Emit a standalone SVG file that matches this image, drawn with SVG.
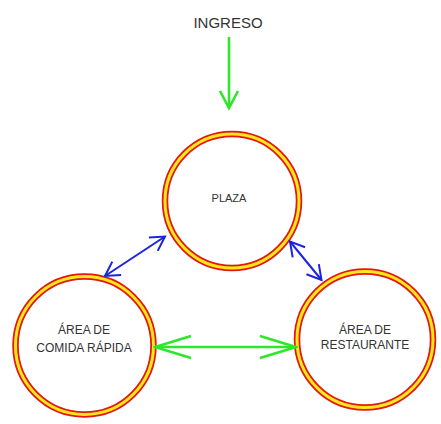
<svg xmlns="http://www.w3.org/2000/svg" width="441" height="424" viewBox="0 0 441 424">
<style>
.ro{fill:#fff;stroke:#e3170f;stroke-width:6.5}
.yi{fill:none;stroke:#ffe81a;stroke-width:3}
.t{font-family:"Liberation Sans",Arial,sans-serif;fill:#333;text-anchor:middle}
.g{stroke:#2ee62a;stroke-width:2.6;fill:none}
.b{stroke:#1c22e0;stroke-width:2;fill:none}
</style>
<defs>
<marker id="gs" viewBox="-20 -11 22 22" refX="0" refY="0" markerWidth="22" markerHeight="22" markerUnits="userSpaceOnUse" orient="auto-start-reverse"><path d="M-17,-9 L0,0 L-17,9" fill="none" stroke="#2ee62a" stroke-width="2.6"/></marker>
<marker id="gb" viewBox="-40 -14 42 28" refX="0" refY="0" markerWidth="42" markerHeight="28" markerUnits="userSpaceOnUse" orient="auto-start-reverse"><path d="M-36,-11 L0,0 L-36,11" fill="none" stroke="#2ee62a" stroke-width="2.6"/></marker>
<marker id="bh" viewBox="-18 -12 20 24" refX="0" refY="0" markerWidth="20" markerHeight="24" markerUnits="userSpaceOnUse" orient="auto-start-reverse"><path d="M-14,-8 L0,0 L-14,8" fill="none" stroke="#1c22e0" stroke-width="2"/></marker>
</defs>
<g id="ingreso"><text class="t" x="228" y="28" font-size="15">INGRESO</text></g>
<g id="plaza">
<circle class="ro" cx="232" cy="201" r="67"/><circle class="yi" cx="232" cy="201" r="67"/>
<text class="t" x="229" y="202" font-size="11">PLAZA</text>
</g>
<g id="comida">
<circle class="ro" cx="84.5" cy="345.5" r="69"/><circle class="yi" cx="84.5" cy="345.5" r="69"/>
<text class="t" x="84" y="334" font-size="12">ÁREA DE</text>
<text class="t" x="84" y="352" font-size="12">COMIDA RÁPIDA</text>
</g>
<g id="restaurante">
<circle class="ro" cx="365" cy="339.5" r="68"/><circle class="yi" cx="365" cy="339.5" r="68"/>
<text class="t" x="365" y="334" font-size="12">ÁREA DE</text>
<text class="t" x="365" y="348.5" font-size="12">RESTAURANTE</text>
</g>
<g id="connectors">
<line class="g" x1="229" y1="37" x2="229" y2="108" marker-end="url(#gs)"/>
<line class="b" x1="105" y1="276" x2="165" y2="236.5" marker-start="url(#bh)" marker-end="url(#bh)"/>
<line class="b" x1="290" y1="241.5" x2="321.5" y2="280" marker-start="url(#bh)" marker-end="url(#bh)"/>
<line class="g" x1="155" y1="347" x2="296" y2="347" marker-start="url(#gb)" marker-end="url(#gb)"/>
</g>
</svg>
